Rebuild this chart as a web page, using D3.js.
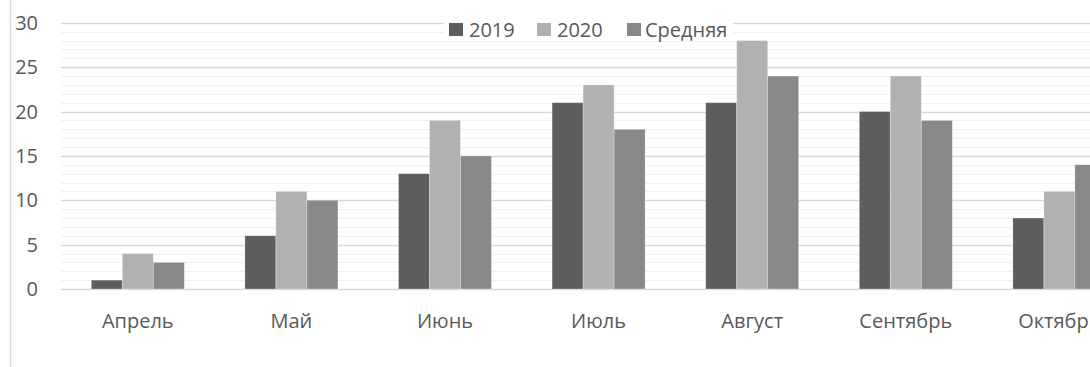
<!DOCTYPE html>
<html>
<head>
<meta charset="utf-8">
<script src="https://cdn.jsdelivr.net/npm/d3@7"></script>
<style>
  body { margin: 0; background: #fff; }
  svg { display: block; font-family: "Open Sans", sans-serif; }
</style>
</head>
<body>
<div id="plot"></div>
<script>
var months = ["Апрель", "Май", "Июнь", "Июль", "Август", "Сентябрь", "Октябрь"];
var seriesNames = ["2019", "2020", "Средняя"];
var values2019 = [1, 6, 13, 21, 21, 20, 8];
var values2020 = [4, 11, 19, 23, 28, 24, 11];
var valuesAvg = [3, 10, 15, 18, 24, 19, 14];
var yTicks = [0, 5, 10, 15, 20, 25, 30];

var colors = ["#5d5d5d", "#b1b1b1", "#888888"];
var seriesValues = [values2019, values2020, valuesAvg];

var W = 1090, H = 367;
var svg = d3.select("#plot")
            .append("svg")
            .attr("width", W)
            .attr("height", H);

// chart frame, only its left edge is in view
svg.append("line")
    .attr("x1", 10.5).attr("x2", 10.5)
    .attr("y1", 0).attr("y2", H)
    .style("stroke", "#d9d9d9")
    .style("stroke-width", 1.5);

var plotLeft = 61, bandW = 153.6;
var xScale = d3.scaleBand()
            .domain(months)
            .range([plotLeft, plotLeft + bandW * months.length])
            .paddingInner(0)
            .paddingOuter(0);
var xInner = d3.scaleBand()
            .domain(seriesNames)
            .range([30.3, bandW - 30.3]);
var yScale = d3.scaleLinear()
            .domain([0, 30])
            .range([289, 22.8]);

// minor grid
svg.append("g").selectAll("line")
    .data(d3.range(1, 30).filter(function(v){ return v % 5 != 0; }))
    .enter().append("line")
    .attr("x1", plotLeft).attr("x2", W)
    .attr("y1", function(d){ return Math.round(yScale(d)) + 0.5; })
    .attr("y2", function(d){ return Math.round(yScale(d)) + 0.5; })
    .style("stroke", "#f0f0f0")
    .style("stroke-width", 1.2);

// major grid
svg.append("g").selectAll("line")
    .data(yTicks)
    .enter().append("line")
    .attr("x1", plotLeft).attr("x2", W)
    .attr("y1", function(d){ return Math.round(yScale(d)) + 0.5; })
    .attr("y2", function(d){ return Math.round(yScale(d)) + 0.5; })
    .style("stroke", "#d9d9d9")
    .style("stroke-width", 1.3);

// bars
var groups = svg.append("g").selectAll("g")
    .data(months)
    .enter().append("g")
    .attr("transform", function(d){ return "translate(" + xScale(d) + ",0)"; });

groups.selectAll("rect")
    .data(function(d, i){
        return seriesNames.map(function(s, j){ return {s: s, v: seriesValues[j][i], c: colors[j]}; });
    })
    .enter().append("rect")
    .attr("x", function(d){ return xInner(d.s); })
    .attr("y", function(d){ return yScale(d.v); })
    .attr("width", xInner.bandwidth())
    .attr("height", function(d){ return yScale(0) - yScale(d.v); })
    .style("fill", function(d){ return d.c; })
    .style("stroke", "#ffffff")
    .style("stroke-opacity", 0.35)
    .style("stroke-width", 0.8);

// y axis labels
svg.append("g").selectAll("text")
    .data(yTicks)
    .enter().append("text")
    .attr("x", 38)
    .attr("y", function(d){ return yScale(d); })
    .attr("dy", "0.36em")
    .attr("text-anchor", "end")
    .style("font-size", "20px")
    .style("fill", "#595959")
    .text(function(d){ return d; });

// x axis labels
svg.append("g").selectAll("text")
    .data(months)
    .enter().append("text")
    .attr("x", function(d){ return xScale(d) + bandW / 2; })
    .attr("y", 328)
    .attr("text-anchor", "middle")
    .style("font-size", "20px")
    .style("fill", "#595959")
    .text(function(d){ return d; });

// legend
var legend = svg.append("g");
legend.append("rect")
    .attr("x", 444).attr("y", 17)
    .attr("width", 289).attr("height", 22)
    .style("fill", "#fff");
var legendX = [449, 537, 627];
var legendTextX = [469, 557, 645];
seriesNames.forEach(function(s, i){
    legend.append("rect")
        .attr("x", legendX[i]).attr("y", 23)
        .attr("width", 14).attr("height", 13)
        .style("fill", colors[i]);
    legend.append("text")
        .attr("x", legendTextX[i])
        .attr("y", 37)
        .style("font-size", "20px")
        .style("fill", "#595959")
        .text(s);
});
</script>
</body>
</html>
